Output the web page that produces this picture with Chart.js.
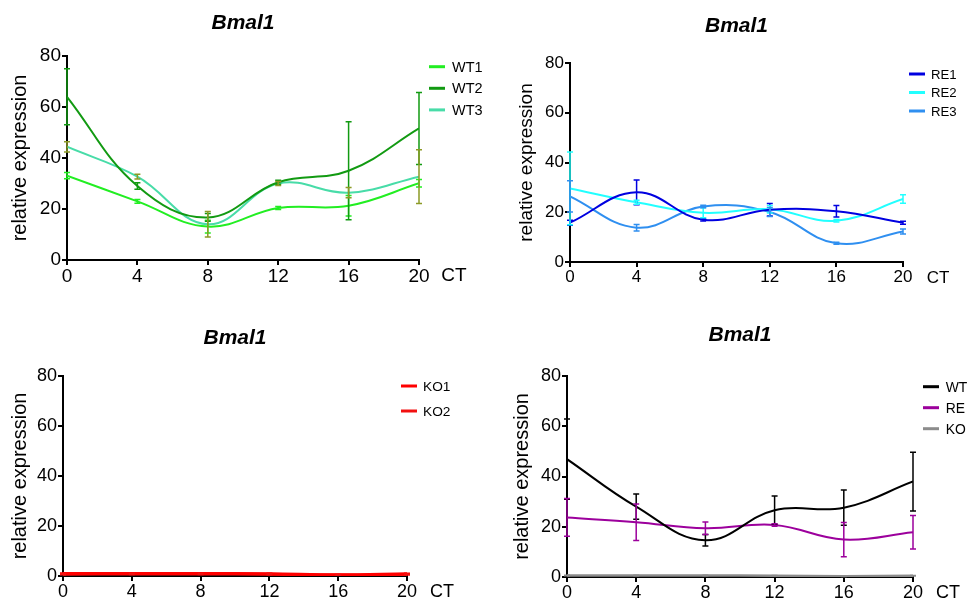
<!DOCTYPE html>
<html>
<head>
<meta charset="utf-8">
<script src="https://cdn.jsdelivr.net/npm/chart.js@4.4.1/dist/chart.umd.min.js"></script>
<style>
  html, body { margin: 0; padding: 0; background: #fff; }
  body { width: 970px; height: 601px; position: relative; overflow: hidden; }
  canvas { position: absolute; }
</style>
</head>
<body>
<canvas id="c1" width="485" height="300" style="left:0;top:0;width:485px;height:300px"></canvas>
<canvas id="c2" width="485" height="300" style="left:485px;top:0;width:485px;height:300px"></canvas>
<canvas id="c3" width="485" height="301" style="left:0;top:300px;width:485px;height:301px"></canvas>
<canvas id="c4" width="485" height="301" style="left:485px;top:300px;width:485px;height:301px"></canvas>
<script>
// ---------- DATA ----------
const CT = [0, 4, 8, 12, 16, 20];
const X_TICKS = [0, 4, 8, 12, 16, 20];
const Y_TICKS = [0, 20, 40, 60, 80];
const TITLE = 'Bmal1';
const Y_TITLE = 'relative expression';
const X_LABEL = 'CT';

// Panel 1 (WT replicates)
const WT1 = [33.1, 23.0, 13.1, 20.4, 21.3, 30.1];
const WT1_ERR = [1.2, 0.7, 2.5, 0.6, 4.0, 1.5];
const WT2 = [64.0, 29.0, 16.7, 30.5, 35.0, 51.6];
const WT2_ERR = [11.0, 1.3, 1.5, 0.8, 19.2, 14.1];
const WT3 = [44.4, 32.7, 14.0, 30.0, 26.4, 32.7];
const WT3_ERR = [2.0, 0.9, 5.0, 0.8, 2.0, 10.5];

// Panel 2 (RE replicates)
const RE1 = [15.8, 28.0, 17.0, 21.0, 20.4, 15.8];
const RE1_ERR = [1.0, 5.0, 0.5, 2.5, 2.3, 0.6];
const RE2 = [29.6, 24.0, 19.8, 21.2, 16.6, 25.3];
const RE2_ERR = [14.6, 0.8, 2.0, 1.5, 0.5, 1.7];
const RE3 = [26.4, 13.8, 22.3, 20.1, 7.5, 12.3];
const RE3_ERR = [6.3, 1.3, 0.5, 1.8, 0.4, 1.0];

// Panel 3 (KO replicates)
const KO1 = [1.0, 1.0, 1.0, 0.9, 0.5, 0.9];
const KO1_ERR = [0.2, 0.2, 0.2, 0.2, 0.1, 0.2];
const KO2 = [0.7, 0.8, 0.8, 0.7, 0.4, 0.6];
const KO2_ERR = [0.2, 0.2, 0.2, 0.2, 0.1, 0.2];

// Panel 4 (group means)
const WT_MEAN = [46.9, 28.0, 14.6, 26.6, 27.6, 38.0];
const WT_MEAN_ERR = [16.0, 5.0, 2.3, 5.6, 7.0, 11.7];
const RE_MEAN = [23.7, 21.8, 19.4, 20.7, 14.9, 17.8];
const RE_MEAN_ERR = [7.5, 7.3, 2.5, 0.5, 6.8, 6.7];
const KO_MEAN = [0.6, 0.6, 0.6, 0.5, 0.3, 0.5];
const KO_MEAN_ERR = [0.1, 0.1, 0.1, 0.1, 0.1, 0.1];

// ---------- helpers ----------
Chart.defaults.font.family = "'Liberation Sans', Arial, sans-serif";
Chart.defaults.color = '#000';

function series(label, values, errs, color, errColor, width) {
  return {
    label: label,
    data: CT.map((x, i) => ({ x: x, y: values[i] })),
    errors: errs,
    errColor: errColor || color,
    borderColor: color,
    backgroundColor: color,
    borderWidth: width || 2,
    pointRadius: 0,
    pointHoverRadius: 0,
    tension: 0.4,
    fill: false
  };
}

const errorBars = {
  id: 'errorBars',
  afterDatasetsDraw(chart) {
    const ctx = chart.ctx;
    const ys = chart.scales.y;
    chart.data.datasets.forEach((ds, di) => {
      const meta = chart.getDatasetMeta(di);
      if (!ds.errors) return;
      ctx.save();
      ctx.strokeStyle = ds.errColor;
      ctx.lineWidth = 1.5;
      meta.data.forEach((pt, i) => {
        const v = ds.data[i].y, e = ds.errors[i];
        const top = ys.getPixelForValue(v + e);
        const bot = ys.getPixelForValue(Math.max(v - e, 0));
        const x = pt.x;
        ctx.beginPath();
        ctx.moveTo(x, top); ctx.lineTo(x, bot);
        ctx.moveTo(x - 3, top); ctx.lineTo(x + 3, top);
        ctx.moveTo(x - 3, bot); ctx.lineTo(x + 3, bot);
        ctx.stroke();
      });
      ctx.restore();
    });
  }
};

const extras = {
  id: 'extras',
  afterDraw(chart, args, opts) {
    const ctx = chart.ctx;
    const a = chart.chartArea;
    ctx.save();
    // CT label
    ctx.fillStyle = '#000';
    ctx.font = opts.tickFont + "px 'Liberation Sans', Arial, sans-serif";
    ctx.textAlign = 'center';
    ctx.textBaseline = 'middle';
    ctx.fillText(X_LABEL, a.right + opts.ctDx, a.bottom + opts.ctDy);
    // legend
    ctx.font = opts.legFont + "px 'Liberation Sans', Arial, sans-serif";
    ctx.textAlign = 'left';
    chart.data.datasets.forEach((ds, i) => {
      const y = a.top + opts.legY0 + i * opts.legDy;
      const x0 = a.right + opts.legLineDx;
      ctx.strokeStyle = ds.borderColor;
      ctx.lineWidth = 3;
      ctx.beginPath();
      ctx.moveTo(x0, y); ctx.lineTo(x0 + 16, y);
      ctx.stroke();
      ctx.fillStyle = '#000';
      ctx.fillText(ds.label, a.right + opts.legTextDx, y + 1);
    });
    ctx.restore();
  }
};

function makeChart(id, p, datasets) {
  const W = p.w, H = p.h;
  new Chart(document.getElementById(id), {
    type: 'line',
    data: { datasets: datasets },
    plugins: [errorBars, extras],
    options: {
      responsive: false,
      animation: false,
      devicePixelRatio: 1,
      layout: { padding: { left: 0, right: W - p.right, top: 0, bottom: 0 } },
      plugins: {
        legend: { display: false },
        tooltip: { enabled: false },
        title: {
          display: true, text: TITLE, fullSize: false, color: '#000',
          font: { size: 21, weight: 'bold', style: 'italic', lineHeight: 1 },
          padding: { top: p.titleY - 10.5, bottom: p.top - p.titleY - 10.5 }
        },
        extras: {
          tickFont: p.tickFont, ctDx: 35, ctDy: 16,
          legFont: p.legFont, legY0: p.legY0, legDy: p.legDy,
          legLineDx: p.legLineDx, legTextDx: p.legTextDx
        }
      },
      scales: {
        x: {
          type: 'linear', min: 0, max: 20,
          afterFit: s => { s.height = H - p.bottom; },
          afterBuildTicks: s => { s.ticks = X_TICKS.map(v => ({ value: v })); },
          ticks: { font: { size: p.tickFont, lineHeight: 1 }, padding: 2, color: '#000', maxRotation: 0, autoSkip: false },
          grid: { display: true, drawOnChartArea: false, drawTicks: true, tickLength: 5, tickWidth: 2, color: '#000', lineWidth: 2 },
          border: { display: true, color: '#000', width: 2 }
        },
        y: {
          type: 'linear', min: 0, max: 80,
          afterFit: s => { s.width = p.left; },
          afterBuildTicks: s => { s.ticks = Y_TICKS.map(v => ({ value: v })); },
          ticks: { font: { size: p.tickFont, lineHeight: 1 }, padding: 1, color: '#000' },
          grid: { display: true, drawOnChartArea: false, drawTicks: true, tickLength: 5, tickWidth: 2, color: '#000', lineWidth: 2 },
          border: { display: true, color: '#000', width: 2 },
          title: {
            display: true, text: Y_TITLE, color: '#000',
            font: { size: p.yTitleFont, lineHeight: 1.2 },
            padding: { top: p.yTitleX - p.yTitleFont * 0.6, bottom: 0 }
          }
        }
      }
    }
  });
}

makeChart('c1', { w: 485, h: 300, left: 67, right: 419, top: 56, bottom: 260, titleY: 23,
  tickFont: 19, yTitleFont: 20, yTitleX: 20, legFont: 14.5, legY0: 10.7, legDy: 21.6, legLineDx: 10, legTextDx: 33 }, [
  series('WT1', WT1, WT1_ERR, '#22ee22'),
  series('WT2', WT2, WT2_ERR, '#129a12'),
  series('WT3', WT3, WT3_ERR, '#48dca8', '#8c9a26')
]);

makeChart('c2', { w: 485, h: 300, left: 85, right: 418, top: 63, bottom: 262, titleY: 26,
  tickFont: 17, yTitleFont: 19, yTitleX: 41.7, legFont: 13.2, legY0: 11, legDy: 18.5, legLineDx: 6, legTextDx: 28 }, [
  series('RE1', RE1, RE1_ERR, '#0000e0'),
  series('RE2', RE2, RE2_ERR, '#22ffff'),
  series('RE3', RE3, RE3_ERR, '#2f8ff0')
]);

makeChart('c3', { w: 485, h: 301, left: 63, right: 407, top: 76, bottom: 276, titleY: 38,
  tickFont: 18, yTitleFont: 20, yTitleX: 20, legFont: 13.7, legY0: 10, legDy: 25, legLineDx: -6, legTextDx: 16 }, [
  series('KO1', KO1, KO1_ERR, '#ff0000', null, 3),
  series('KO2', KO2, KO2_ERR, '#f21010', null, 3)
]);

makeChart('c4', { w: 485, h: 301, left: 82, right: 428, top: 76, bottom: 277, titleY: 35,
  tickFont: 18, yTitleFont: 20, yTitleX: 37.7, legFont: 13.9, legY0: 10.7, legDy: 21, legLineDx: 10, legTextDx: 32.7 }, [
  series('WT', WT_MEAN, WT_MEAN_ERR, '#000000'),
  series('RE', RE_MEAN, RE_MEAN_ERR, '#9c009c'),
  series('KO', KO_MEAN, KO_MEAN_ERR, '#8c8c8c', null, 2.5)
]);
</script>
</body>
</html>
